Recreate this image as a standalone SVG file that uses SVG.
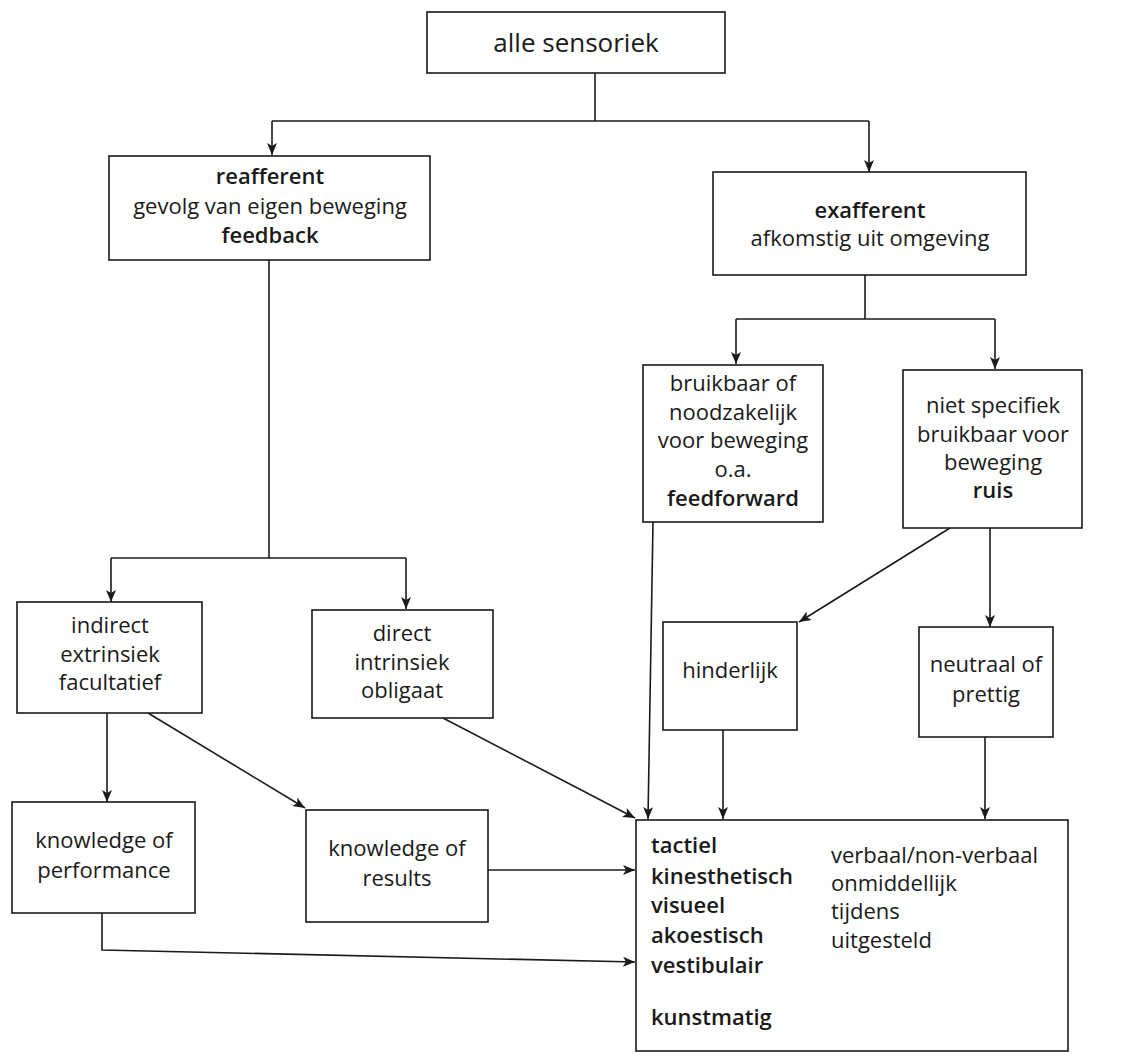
<svg xmlns="http://www.w3.org/2000/svg" width="1135" height="1059" viewBox="0 0 1135 1059">
<style>
.box{fill:#fff;stroke:#1a1a1a;stroke-width:1.6}
.t{font-family:"Open Sans","Liberation Sans",sans-serif;font-size:22px;fill:#1a1a1a;text-anchor:middle}
.l{text-anchor:start}
.b{font-weight:600}
.c{fill:none;stroke:#1a1a1a;stroke-width:1.6}
</style>
<defs>
<marker id="ah" viewBox="0 0 12 10" refX="12" refY="5" markerWidth="12" markerHeight="10" markerUnits="userSpaceOnUse" orient="auto">
<path d="M0,0 L12,5 L0,10 L3,5 Z" fill="#1a1a1a"/>
</marker>
</defs>
<rect width="1135" height="1059" fill="#fff"/>
<g id="connectors">
<path class="c" d="M595,72 V121"/>
<path class="c" d="M272,121 H869"/>
<path class="c" d="M272,121 V155" marker-end="url(#ah)"/>
<path class="c" d="M869,121 V172" marker-end="url(#ah)"/>
<path class="c" d="M865,275 V319"/>
<path class="c" d="M736,319 H995"/>
<path class="c" d="M736,319 V364" marker-end="url(#ah)"/>
<path class="c" d="M995,319 V369" marker-end="url(#ah)"/>
<path class="c" d="M269,260 V558"/>
<path class="c" d="M111,558 H406"/>
<path class="c" d="M111,558 V602" marker-end="url(#ah)"/>
<path class="c" d="M406,558 V609" marker-end="url(#ah)"/>
<path class="c" d="M107,713 V802" marker-end="url(#ah)"/>
<path class="c" d="M148,713 L305,808" marker-end="url(#ah)"/>
<path class="c" d="M950,528 L799,622" marker-end="url(#ah)"/>
<path class="c" d="M990,528 V627" marker-end="url(#ah)"/>
<path class="c" d="M653,522 L648,819" marker-end="url(#ah)"/>
<path class="c" d="M723,730 V819" marker-end="url(#ah)"/>
<path class="c" d="M985,737 V819" marker-end="url(#ah)"/>
<path class="c" d="M443,718 L635,818" marker-end="url(#ah)"/>
<path class="c" d="M488,870 H635" marker-end="url(#ah)"/>
<path class="c" d="M102,913 V950 L635,962" marker-end="url(#ah)"/>
</g>
<g id="n-alle">
<rect class="box" x="427" y="12" width="298" height="61"/>
<text class="t" x="576" y="52" style="font-size:26px">alle sensoriek</text>
</g>
<g id="n-reafferent">
<rect class="box" x="109" y="156" width="321" height="104"/>
<text class="t b" x="270" y="184">reafferent</text>
<text class="t" x="270" y="214">gevolg van eigen beweging</text>
<text class="t b" x="270" y="243">feedback</text>
</g>
<g id="n-exafferent">
<rect class="box" x="713" y="172" width="313" height="103"/>
<text class="t b" x="870" y="218">exafferent</text>
<text class="t" x="870" y="246">afkomstig uit omgeving</text>
</g>
<g id="n-bruikbaar">
<rect class="box" x="643" y="365" width="180" height="157"/>
<text class="t" x="733" y="391">bruikbaar of</text>
<text class="t" x="733" y="420">noodzakelijk</text>
<text class="t" x="733" y="448">voor beweging</text>
<text class="t" x="733" y="477">o.a.</text>
<text class="t b" x="733" y="506">feedforward</text>
</g>
<g id="n-nietspecifiek">
<rect class="box" x="903" y="370" width="179" height="158"/>
<text class="t" x="993" y="413">niet specifiek</text>
<text class="t" x="993" y="442">bruikbaar voor</text>
<text class="t" x="993" y="470">beweging</text>
<text class="t b" x="993" y="498">ruis</text>
</g>
<g id="n-hinderlijk">
<rect class="box" x="663" y="622" width="134" height="108"/>
<text class="t" x="730" y="678">hinderlijk</text>
</g>
<g id="n-neutraal">
<rect class="box" x="919" y="627" width="134" height="110"/>
<text class="t" x="986" y="672">neutraal of</text>
<text class="t" x="986" y="702">prettig</text>
</g>
<g id="n-indirect">
<rect class="box" x="17" y="602" width="185" height="111"/>
<text class="t" x="110" y="633">indirect</text>
<text class="t" x="110" y="662">extrinsiek</text>
<text class="t" x="110" y="690">facultatief</text>
</g>
<g id="n-direct">
<rect class="box" x="312" y="610" width="181" height="108"/>
<text class="t" x="402" y="641">direct</text>
<text class="t" x="402" y="670">intrinsiek</text>
<text class="t" x="402" y="698">obligaat</text>
</g>
<g id="n-kop">
<rect class="box" x="12" y="802" width="183" height="111"/>
<text class="t" x="104" y="848">knowledge of</text>
<text class="t" x="104" y="878">performance</text>
</g>
<g id="n-kor">
<rect class="box" x="306" y="810" width="182" height="112"/>
<text class="t" x="397" y="856">knowledge of</text>
<text class="t" x="397" y="886">results</text>
</g>
<g id="n-modaliteiten">
<rect class="box" x="636" y="820" width="432" height="231"/>
<text class="t l b" x="651" y="853">tactiel</text>
<text class="t l b" x="651" y="884">kinesthetisch</text>
<text class="t l b" x="651" y="913">visueel</text>
<text class="t l b" x="651" y="943">akoestisch</text>
<text class="t l b" x="651" y="973">vestibulair</text>
<text class="t l b" x="651" y="1025">kunstmatig</text>
<text class="t l" x="831" y="863">verbaal/non-verbaal</text>
<text class="t l" x="831" y="891">onmiddellijk</text>
<text class="t l" x="831" y="919">tijdens</text>
<text class="t l" x="831" y="948">uitgesteld</text>
</g>
</svg>
